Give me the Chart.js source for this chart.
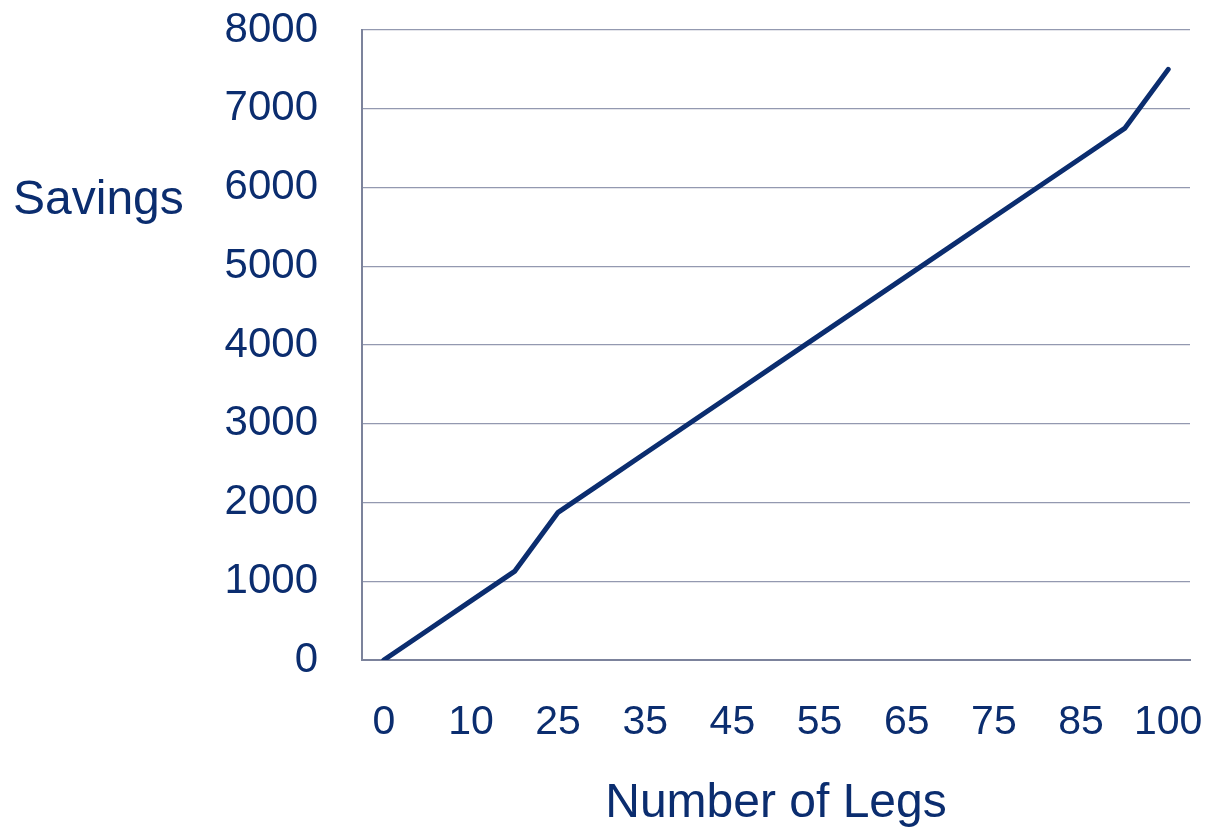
<!DOCTYPE html>
<html>
<head>
<meta charset="utf-8">
<script src="https://cdn.jsdelivr.net/npm/chart.js@4/dist/chart.umd.min.js"></script>
<style>
  html, body { margin: 0; padding: 0; background: #ffffff; }
  #wrap { position: relative; width: 1209px; height: 833px; }
</style>
</head>
<body>
<div id="wrap"><canvas id="c" width="1209" height="833"></canvas></div>
<script>
// ---- data ----
const legs = ['0','5','10','20','25','30','35','40','45','50','55','60','65','70','75','80','85','90','100'];
const savings = [0,375,750,1125,1875,2250,2625,3000,3375,3750,4125,4500,4875,5250,5625,6000,6375,6750,7500];
const yTicks = [0,1000,2000,3000,4000,5000,6000,7000,8000];
const yTitle = 'Savings';
const xTitle = 'Number of Legs';

const navy = '#0b2d6f';
const grid = '#9399b0';
const axis = '#7c839c';
const fam = '"Liberation Sans", Arial, sans-serif';

const sideTitle = {
  id: 'sideTitle',
  afterDraw(chart) {
    const ctx = chart.ctx;
    ctx.save();
    ctx.fillStyle = navy;
    ctx.font = '48px ' + fam;
    ctx.textAlign = 'left';
    ctx.textBaseline = 'middle';
    ctx.fillText(yTitle, 13, 201);
    ctx.restore();
  }
};

new Chart(document.getElementById('c'), {
  type: 'line',
  data: {
    labels: legs,
    datasets: [{
      data: savings,
      borderColor: navy,
      borderWidth: 5,
      borderCapStyle: 'round',
      borderJoinStyle: 'round',
      pointRadius: 0,
      tension: 0,
      fill: false
    }]
  },
  options: {
    responsive: false,
    animation: false,
    layout: { padding: { left: 0, right: 19, top: 30, bottom: 0 } },
    plugins: { legend: { display: false }, tooltip: { enabled: false } },
    scales: {
      x: {
        type: 'category',
        offset: true,
        grid: { display: false, drawTicks: false },
        border: { display: true, color: axis, width: 2 },
        ticks: {
          autoSkip: false,
          maxRotation: 0,
          padding: 38,
          color: navy,
          font: { family: fam, size: 41 },
          callback: (v, i) => (i % 2 === 0 ? legs[i] : '')
        },
        title: {
          display: true,
          text: xTitle,
          color: navy,
          font: { family: fam, size: 48 },
          padding: { top: 0, bottom: 0 }
        },
        afterFit: (s) => { s.height = 173; s.paddingLeft = 0; s.paddingRight = 0; }
      },
      y: {
        min: 0,
        max: 8000,
        afterBuildTicks: (s) => { s.ticks = yTicks.map(v => ({ value: v })); },
        grid: { color: grid, lineWidth: 1.3, drawTicks: false },
        border: { display: true, color: axis, width: 2 },
        ticks: {
          padding: 44,
          color: navy,
          font: { family: fam, size: 42 },
          callback: (v) => String(v)
        },
        afterFit: (s) => { s.width = 362; s.paddingTop = 0; s.paddingBottom = 0; }
      }
    }
  },
  plugins: [sideTitle]
});
</script>
</body>
</html>
